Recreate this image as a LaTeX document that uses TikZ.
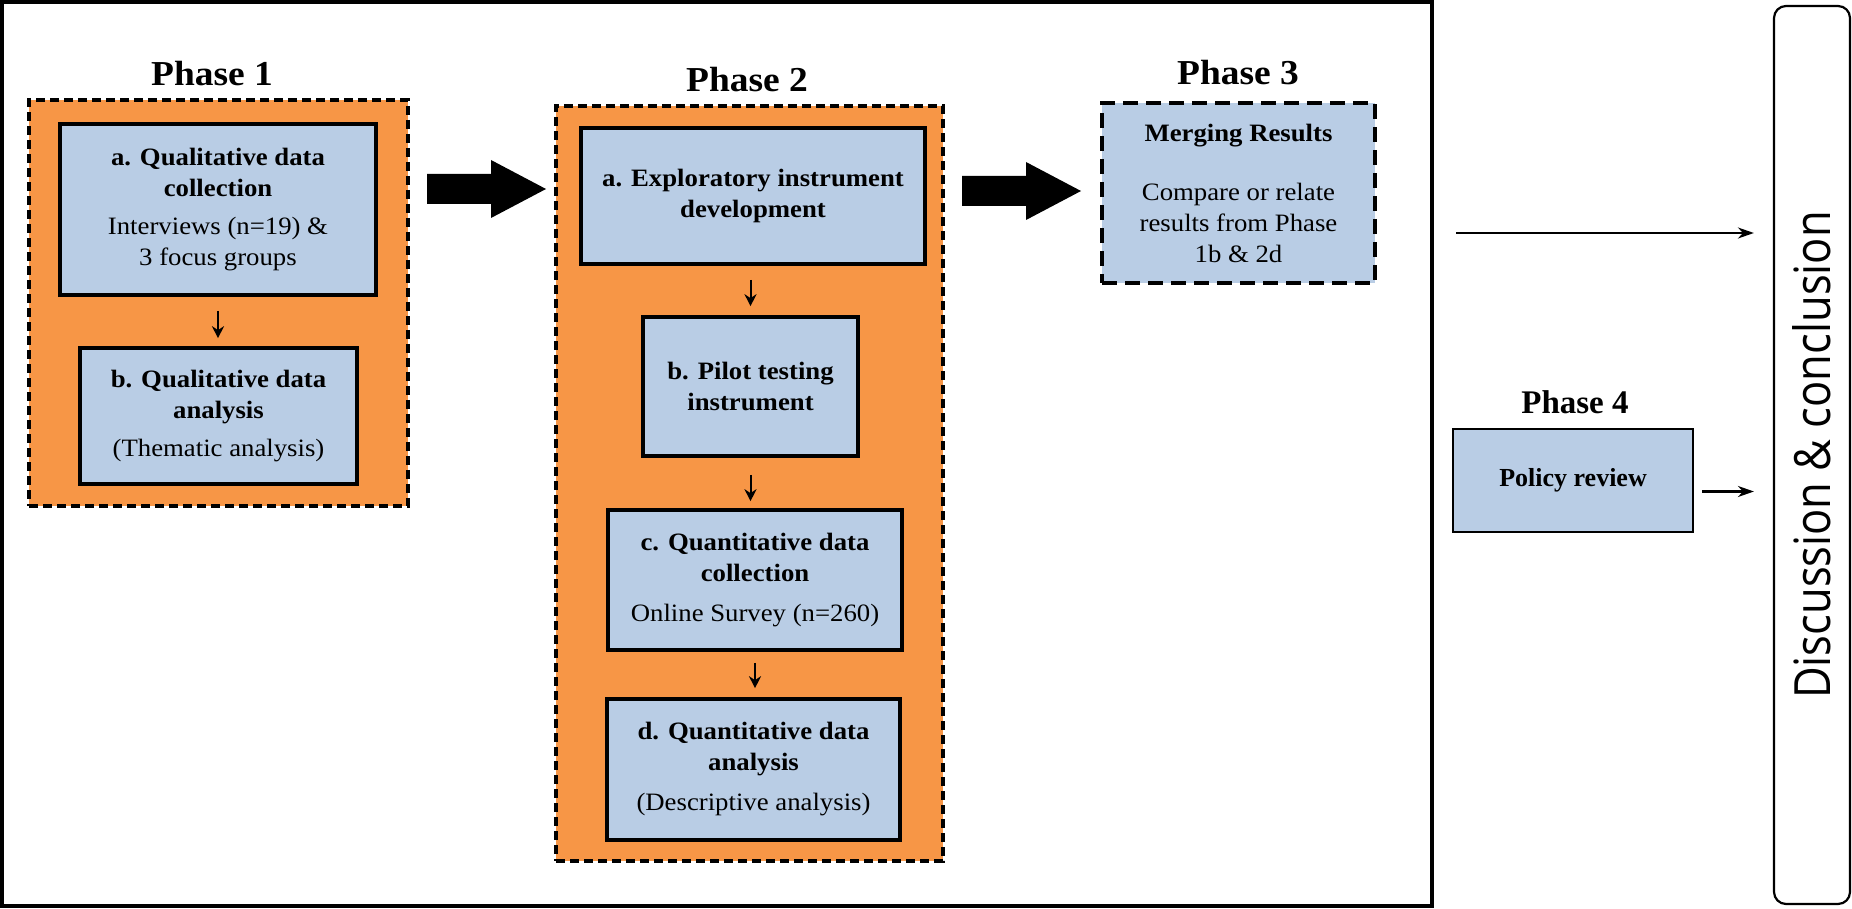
\documentclass[tikz,border=0pt]{standalone}
\usepackage{fontspec}
\setmainfont{Liberation Serif}
\newfontfamily\boxfont[FakeStretch=1.07]{Liberation Serif}
\newfontfamily\discfont[FakeStretch=0.87]{Open Sans}
\usetikzlibrary{arrows.meta}
\definecolor{phaseorange}{HTML}{F79646}
\definecolor{stepblue}{HTML}{B9CDE5}

\begin{document}
\begin{tikzpicture}[x=0.5pt,y=-0.5pt,
  container/.style={draw=black, fill=phaseorange, line width=1.7pt,
    dash pattern=on 4.5pt off 2.5pt, inner sep=0pt},
  stepbox/.style={draw=black, fill=stepblue, line width=1.8pt, inner sep=0pt,
    align=center, font=\boxfont\fontsize{12.5}{15.5}\selectfont},
  mergebox/.style={stepbox, line width=2.2pt, dash pattern=on 7.5pt off 4pt},
  phasetitle/.style={font=\boxfont\bfseries\fontsize{17.5}{20}\selectfont, anchor=base, inner sep=0pt},
  flow/.style={-{Stealth[length=6pt,width=6pt]}, line width=1pt},
  longflow/.style={-{Stealth[length=8pt,width=5.5pt]}, line width=1.2pt},
  bigarrow/.pic={\fill (0,-15) -- (64,-15) -- (64,-29) -- (119,0) -- (64,29)
    -- (64,15) -- (0,15) -- cycle;}
]
\useasboundingbox (0,0) rectangle (1852,909);

% outer frame around phases 1-3
\draw[line width=1.6pt] (2,2) rectangle (1432,906);

% ---- Phase 1 ----
\node[phasetitle] (t1) at (212,86) {Phase 1};
\node[container, minimum width=189.5pt, minimum height=203pt] (ph1) at (218.5,303) {};
\node[stepbox, minimum width=158pt, minimum height=85.5pt] (p1a) at (218,209.5)
  {\textbf{a. Qualitative data}\\\textbf{collection}\\[3.5pt]
   Interviews (n=19) \&\\ 3 focus groups};
\node[stepbox, minimum width=138.5pt, minimum height=68pt] (p1b) at (218.5,416)
  {\textbf{b. Qualitative data}\\\textbf{analysis}\\[3.5pt] (Thematic analysis)};
\draw[flow, shorten <=7pt, shorten >=4pt] (p1a.south) -- (p1a.south |- p1b.north);

% ---- Phase 2 ----
\node[phasetitle] (t2) at (747,92) {Phase 2};
\node[container, minimum width=193.5pt, minimum height=377.5pt] (ph2) at (749.5,483.5) {};
\node[stepbox, minimum width=172pt, minimum height=68pt] (p2a) at (753,196)
  {\textbf{a. Exploratory instrument}\\\textbf{development}};
\node[stepbox, minimum width=107.5pt, minimum height=69.5pt] (p2b) at (750.5,386.5)
  {\textbf{b. Pilot testing}\\\textbf{instrument}};
\node[stepbox, minimum width=147pt, minimum height=70pt] (p2c) at (755,580)
  {\textbf{c. Quantitative data}\\\textbf{collection}\\[4.5pt] Online Survey (n=260)};
\node[stepbox, minimum width=146.5pt, minimum height=70.5pt] (p2d) at (753.5,769.5)
  {\textbf{d. Quantitative data}\\\textbf{analysis}\\[4.5pt] (Descriptive analysis)};
\draw[flow, shorten <=7pt, shorten >=4.5pt] (p2b.north |- p2a.south) -- (p2b.north);
\draw[flow, shorten <=8.5pt, shorten >=3.5pt] (p2b.south) -- (p2b.south |- p2c.north);
\draw[flow, shorten <=5.5pt, shorten >=4.5pt] (p2c.south) -- (p2c.south |- p2d.north);

% ---- Phase 3 ----
\node[phasetitle] (t3) at (1238,85) {Phase 3};
\node[mergebox, minimum width=136.5pt, minimum height=90pt] (p3) at (1238.5,193)
  {\textbf{Merging Results}\\[14pt] Compare or relate\\ results from Phase\\ 1b \& 2d};

% block arrows between phases
\pic at (427,189) {bigarrow};
\pic at (962,191) {bigarrow};

% ---- Phase 4 ----
\node[phasetitle, font=\bfseries\fontsize{16.5}{20}\selectfont] (t4) at (1575,413) {Phase 4};
\node[stepbox, line width=1.2pt, minimum width=120pt, minimum height=51.5pt,
  font=\bfseries\fontsize{13}{15}\selectfont] (p4) at (1573,480.5) {Policy review};

% ---- Discussion ----
\node[draw=black, line width=1.1pt, rounded corners=6pt, minimum width=38pt,
  minimum height=449pt, inner sep=0pt] (disc) at (1812,455) {};
\node[rotate=90, font=\discfont\fontsize{25}{28}\selectfont, inner sep=0pt]
  (disctext) at (disc.center) {Discussion \& conclusion};

\coordinate (fromframe) at (1456,233);
\coordinate (fromp4) at ([yshift=-5.5pt]p4.east);
\draw[longflow, shorten >=9.5pt] (fromframe) -- (disc.west |- fromframe);
\draw[longflow, shorten <=4pt, shorten >=9.5pt] (fromp4) -- (disc.west |- fromp4);
\end{tikzpicture}
\end{document}
